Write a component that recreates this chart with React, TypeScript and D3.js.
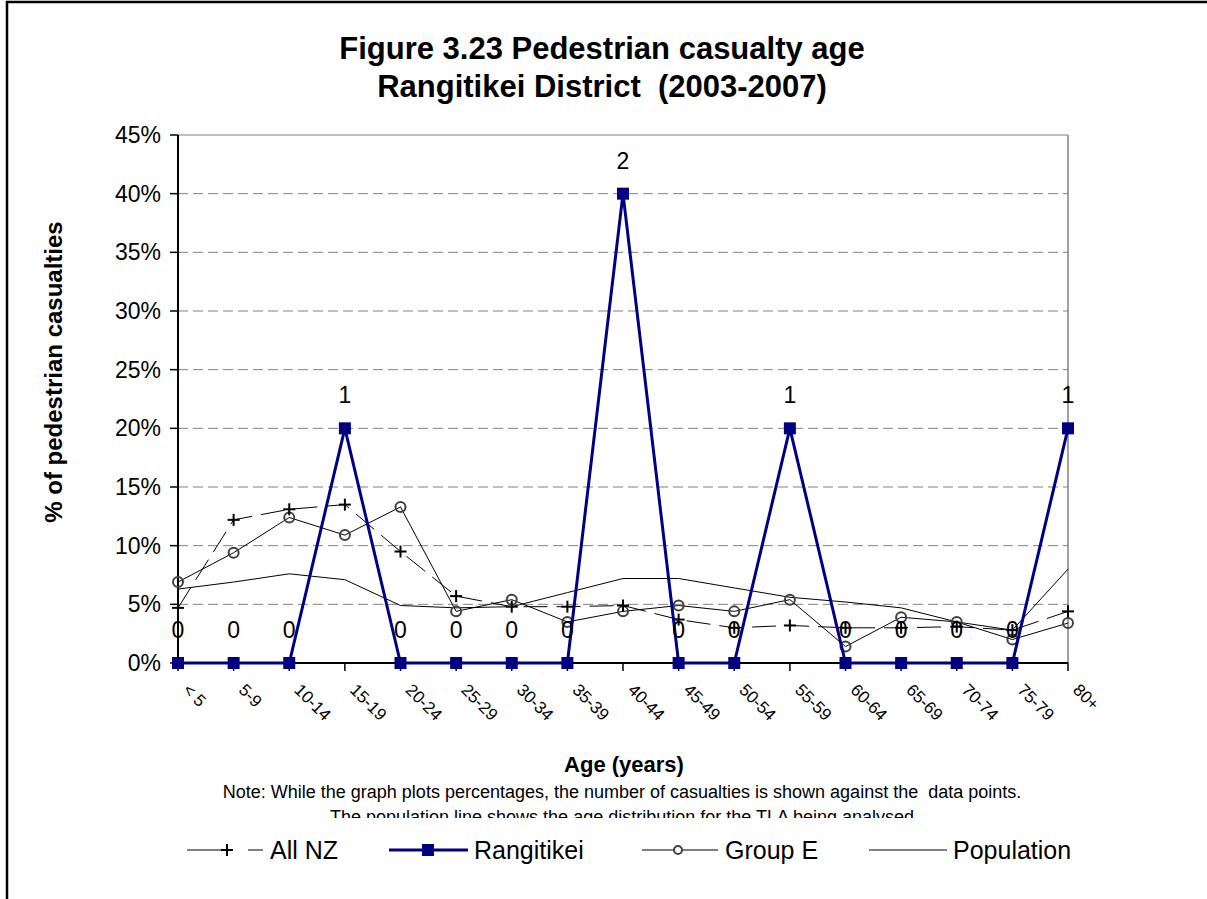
// @ts-nocheck
import * as d3 from 'd3';

const ageGroups = ['< 5', '5-9', '10-14', '15-19', '20-24', '25-29', '30-34', '35-39', '40-44', '45-49', '50-54', '55-59', '60-64', '65-69', '70-74', '75-79', '80+'];
const allNZ = [4.7, 12.2, 13.1, 13.5, 9.5, 5.7, 4.8, 4.8, 4.9, 3.7, 3.0, 3.2, 3.0, 3.0, 3.1, 2.8, 4.4];
const rangitikei = [0, 0, 0, 20, 0, 0, 0, 0, 40, 0, 0, 20, 0, 0, 0, 0, 20];
const rangitikeiCounts = [0, 0, 0, 1, 0, 0, 0, 0, 2, 0, 0, 1, 0, 0, 0, 0, 1];
const groupE = [6.9, 9.4, 12.4, 10.9, 13.3, 4.4, 5.4, 3.5, 4.4, 4.9, 4.4, 5.4, 1.4, 3.9, 3.5, 2.0, 3.4];
const population = [6.3, 6.9, 7.6, 7.1, 4.9, 4.7, 4.8, 6.0, 7.2, 7.2, 6.4, 5.6, 5.2, 4.7, 3.5, 2.8, 8.0];
const yTicks = [0, 5, 10, 15, 20, 25, 30, 35, 40, 45];

const W = 1207;
const H = 899;
const plot = { left: 178, right: 1068, top: 135, bottom: 663 };
const font = 'Arial, "Liberation Sans", sans-serif';
const navy = '#000080';

export default function App() {
  const x = d3.scalePoint().domain(ageGroups).range([plot.left, plot.right]);
  const y = d3.scaleLinear().domain([0, 45]).range([plot.bottom, plot.top]);

  const line = (vals) =>
    d3.line().x((d, i) => x(ageGroups[i])).y((d) => y(d))(vals);

  const plus = (cx, cy, key) => (
    <g key={key} stroke="#000" strokeWidth={2}>
      <line x1={cx - 6} x2={cx + 6} y1={cy} y2={cy} />
      <line x1={cx} x2={cx} y1={cy - 6} y2={cy + 6} />
    </g>
  );

  return (
    <svg width={W} height={H} style={{ position: 'absolute', left: 0, top: 0, background: '#fff' }} fontFamily={font}>
      <defs>
        <clipPath id="noteClip">
          <rect x={0} y={0} width={W} height={818} />
        </clipPath>
      </defs>
      <rect x={7} y={2} width={W + 40} height={H + 40} fill="#fff" stroke="#000" strokeWidth={2.5} />

      {/* Title */}
      <text x={602} y={59} textAnchor="middle" fontSize={31} fontWeight="bold">Figure 3.23 Pedestrian casualty age</text>
      <text x={602} y={97} textAnchor="middle" fontSize={31} fontWeight="bold" style={{ whiteSpace: 'pre' }}>Rangitikei District  (2003-2007)</text>

      {/* Gridlines */}
      {yTicks.filter((t) => t > 0 && t < 45).map((t) => (
        <line key={'g' + t} x1={plot.left} x2={plot.right} y1={y(t)} y2={y(t)} stroke="#808080" strokeWidth={1} strokeDasharray="10,5" />
      ))}
      <line x1={plot.left} x2={plot.right} y1={y(45)} y2={y(45)} stroke="#808080" strokeWidth={1} />
      <line x1={plot.right} x2={plot.right} y1={y(45)} y2={y(0)} stroke="#808080" strokeWidth={1.5} />

      {/* Y axis */}
      <line x1={plot.left} x2={plot.left} y1={plot.top} y2={plot.bottom} stroke="#000" strokeWidth={2} />
      {yTicks.map((t) => (
        <g key={'yt' + t}>
          <line x1={plot.left - 8} x2={plot.left} y1={y(t)} y2={y(t)} stroke="#000" strokeWidth={1.5} />
          <text x={plot.left - 17} y={y(t) + 8} textAnchor="end" fontSize={23}>{t}%</text>
        </g>
      ))}
      <text transform={`translate(62,${372}) rotate(-90)`} textAnchor="middle" fontSize={24} fontWeight="bold">% of pedestrian casualties</text>

      {/* X axis */}
      <line x1={plot.left} x2={plot.right} y1={plot.bottom} y2={plot.bottom} stroke="#000" strokeWidth={2} />
      {ageGroups.map((g) => (
        <g key={'xt' + g}>
          <line x1={x(g)} x2={x(g)} y1={plot.bottom} y2={plot.bottom + 8} stroke="#000" strokeWidth={1.5} />
          <text transform={`translate(${x(g) + 4},${plot.bottom + 28}) rotate(45)`} fontSize={17}>{g}</text>
        </g>
      ))}
      <text x={624} y={772} textAnchor="middle" fontSize={22} fontWeight="bold">Age (years)</text>
      <g clipPath="url(#noteClip)">
        <text x={622} y={798} textAnchor="middle" fontSize={18} style={{ whiteSpace: 'pre' }}>Note: While the graph plots percentages, the number of casualties is shown against the  data points.</text>
        <text x={622} y={823} textAnchor="middle" fontSize={18}>The population line shows the age distribution for the TLA being analysed</text>
      </g>

      {/* Series */}
      <path d={line(population)} fill="none" stroke="#000" strokeWidth={1} />
      <path d={line(groupE)} fill="none" stroke="#000" strokeWidth={1} />
      {groupE.map((v, i) => (
        <circle key={'ge' + i} cx={x(ageGroups[i])} cy={y(v)} r={5} fill="none" stroke="#404040" strokeWidth={2} />
      ))}
      <path d={line(allNZ)} fill="none" stroke="#000" strokeWidth={1} strokeDasharray="24,9" />
      {allNZ.map((v, i) => plus(x(ageGroups[i]), y(v), 'nz' + i))}
      <path d={line(rangitikei)} fill="none" stroke={navy} strokeWidth={3} />
      {rangitikei.map((v, i) => (
        <rect key={'r' + i} x={x(ageGroups[i]) - 6} y={y(v) - 6} width={12} height={12} fill={navy} />
      ))}
      {rangitikeiCounts.map((c, i) => (
        <text key={'c' + i} x={x(ageGroups[i])} y={y(rangitikei[i]) - 25} textAnchor="middle" fontSize={23}>{c}</text>
      ))}

      {/* Legend */}
      <g fontSize={25}>
        <line x1={187} x2={223} y1={850} y2={850} stroke="#000" strokeWidth={1} />
        {plus(227, 850, 'lg1')}
        <line x1={248} x2={263} y1={850} y2={850} stroke="#000" strokeWidth={1} />
        <text x={270} y={859}>All NZ</text>

        <line x1={389} x2={468} y1={850} y2={850} stroke={navy} strokeWidth={3} />
        <rect x={422} y={844} width={12} height={12} fill={navy} />
        <text x={474} y={859}>Rangitikei</text>

        <line x1={642} x2={718} y1={850} y2={850} stroke="#000" strokeWidth={1} />
        <circle cx={678} cy={850} r={4} fill="#fff" stroke="#404040" strokeWidth={2} />
        <text x={725} y={859}>Group E</text>

        <line x1={869} x2={947} y1={850} y2={850} stroke="#000" strokeWidth={1} />
        <text x={953} y={859}>Population</text>
      </g>
    </svg>
  );
}
